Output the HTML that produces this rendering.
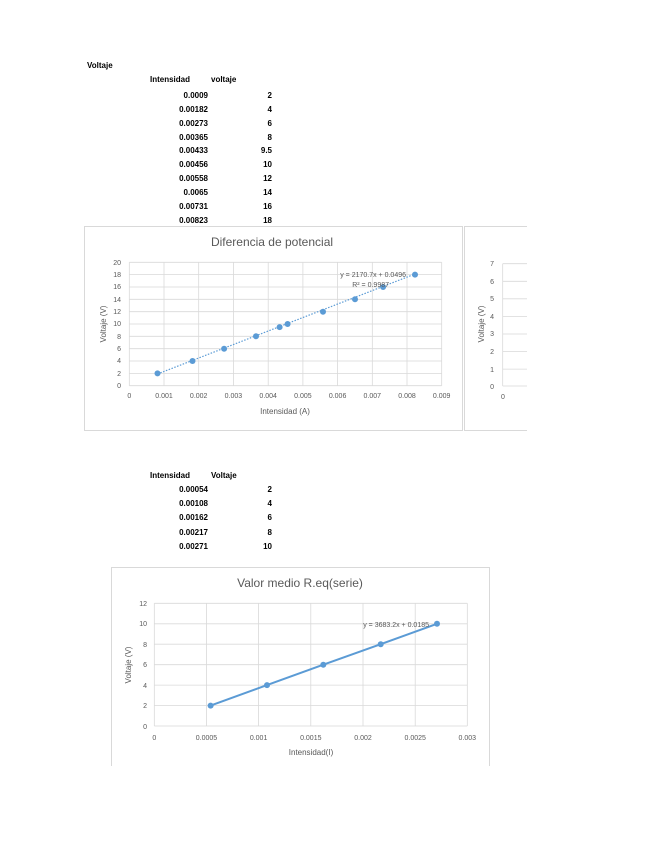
<!DOCTYPE html><html><head><meta charset="utf-8"><style>
body{margin:0;background:#fff}
svg{display:block;font-family:"Liberation Sans",sans-serif}
.t{font-size:8px;font-weight:bold;fill:#000}
.a{font-size:7px;fill:#595959}
.g{stroke:#d9d9d9;stroke-width:0.8}
</style></head><body>
<svg width="655" height="848" viewBox="0 0 655 848" xmlns="http://www.w3.org/2000/svg">
<rect width="655" height="848" fill="#fff"/>
<!-- table 1 -->
<text class="t" x="87" y="68">Voltaje</text>
<text class="t" x="150" y="82">Intensidad</text><text class="t" x="211" y="82">voltaje</text>
<g class="t" text-anchor="end">
<text x="208" y="98">0.0009</text><text x="272" y="98">2</text>
<text x="208" y="112">0.00182</text><text x="272" y="112">4</text>
<text x="208" y="126">0.00273</text><text x="272" y="126">6</text>
<text x="208" y="140">0.00365</text><text x="272" y="140">8</text>
<text x="208" y="153">0.00433</text><text x="272" y="153">9.5</text>
<text x="208" y="167">0.00456</text><text x="272" y="167">10</text>
<text x="208" y="181">0.00558</text><text x="272" y="181">12</text>
<text x="208" y="195">0.0065</text><text x="272" y="195">14</text>
<text x="208" y="209">0.00731</text><text x="272" y="209">16</text>
<text x="208" y="223">0.00823</text><text x="272" y="223">18</text>
</g>
<!-- chart 1 -->
<rect x="84.5" y="226.5" width="378" height="204" fill="#fff" stroke="#d9d9d9"/>
<text x="272" y="246" text-anchor="middle" font-size="12" fill="#595959">Diferencia de potencial</text>
<g class="g">
<line x1="129.3" y1="262.3" x2="129.3" y2="385.7"/><line x1="164" y1="262.3" x2="164" y2="385.7"/><line x1="198.7" y1="262.3" x2="198.7" y2="385.7"/><line x1="233.4" y1="262.3" x2="233.4" y2="385.7"/><line x1="268.2" y1="262.3" x2="268.2" y2="385.7"/><line x1="302.9" y1="262.3" x2="302.9" y2="385.7"/><line x1="337.6" y1="262.3" x2="337.6" y2="385.7"/><line x1="372.3" y1="262.3" x2="372.3" y2="385.7"/><line x1="407" y1="262.3" x2="407" y2="385.7"/><line x1="441.7" y1="262.3" x2="441.7" y2="385.7"/>
<line x1="129.3" y1="385.7" x2="441.7" y2="385.7"/><line x1="129.3" y1="373.4" x2="441.7" y2="373.4"/><line x1="129.3" y1="361" x2="441.7" y2="361"/><line x1="129.3" y1="348.7" x2="441.7" y2="348.7"/><line x1="129.3" y1="336.3" x2="441.7" y2="336.3"/><line x1="129.3" y1="324" x2="441.7" y2="324"/><line x1="129.3" y1="311.7" x2="441.7" y2="311.7"/><line x1="129.3" y1="299.3" x2="441.7" y2="299.3"/><line x1="129.3" y1="287" x2="441.7" y2="287"/><line x1="129.3" y1="274.6" x2="441.7" y2="274.6"/><line x1="129.3" y1="262.3" x2="441.7" y2="262.3"/>
</g>
<g class="a" text-anchor="end">
<text x="121" y="388">0</text><text x="121" y="376">2</text><text x="121" y="363">4</text><text x="121" y="351">6</text><text x="121" y="339">8</text><text x="121" y="326">10</text><text x="121" y="314">12</text><text x="121" y="302">14</text><text x="121" y="289">16</text><text x="121" y="277">18</text><text x="121" y="265">20</text>
</g>
<g class="a" text-anchor="middle">
<text x="129.3" y="398">0</text><text x="164" y="398">0.001</text><text x="198.7" y="398">0.002</text><text x="233.4" y="398">0.003</text><text x="268.2" y="398">0.004</text><text x="302.9" y="398">0.005</text><text x="337.6" y="398">0.006</text><text x="372.3" y="398">0.007</text><text x="407" y="398">0.008</text><text x="441.7" y="398">0.009</text>
</g>
<text x="285" y="414" text-anchor="middle" font-size="8" fill="#595959">Intensidad (A)</text>
<text transform="translate(106,324) rotate(-90)" text-anchor="middle" font-size="8" fill="#595959">Voltaje (V)</text>
<line x1="157.5" y1="374" x2="415" y2="274" stroke="#5b9bd5" stroke-width="1.2" stroke-dasharray="1.5,1.5"/>
<g fill="#5b9bd5">
<circle cx="157.5" cy="373.4" r="3"/><circle cx="192.5" cy="361" r="3"/><circle cx="224.1" cy="348.7" r="3"/><circle cx="256" cy="336.3" r="3"/><circle cx="279.6" cy="327.1" r="3"/><circle cx="287.6" cy="324" r="3"/><circle cx="323" cy="311.7" r="3"/><circle cx="355" cy="299.3" r="3"/><circle cx="383.1" cy="287" r="3"/><circle cx="415" cy="274.6" r="3"/>
</g>
<text x="406" y="277" text-anchor="end" font-size="7" fill="#595959">y = 2170.7x + 0.0496</text>
<text x="389" y="287" text-anchor="end" font-size="7" fill="#595959">R² = 0.9987</text>
<!-- partial chart -->
<rect x="464.5" y="226.5" width="80" height="204" fill="#fff" stroke="#d9d9d9"/>
<g class="g">
<line x1="502.7" y1="263.7" x2="527" y2="263.7"/><line x1="502.7" y1="281.3" x2="527" y2="281.3"/><line x1="502.7" y1="298.8" x2="527" y2="298.8"/><line x1="502.7" y1="316.4" x2="527" y2="316.4"/><line x1="502.7" y1="334" x2="527" y2="334"/><line x1="502.7" y1="351.5" x2="527" y2="351.5"/><line x1="502.7" y1="369.1" x2="527" y2="369.1"/><line x1="502.7" y1="386" x2="527" y2="386"/><line x1="502.7" y1="263.7" x2="502.7" y2="386"/>
</g>
<g class="a" text-anchor="end">
<text x="494" y="266">7</text><text x="494" y="284">6</text><text x="494" y="301">5</text><text x="494" y="319">4</text><text x="494" y="336">3</text><text x="494" y="354">2</text><text x="494" y="372">1</text><text x="494" y="389">0</text>
</g>
<text class="a" x="503" y="399" text-anchor="middle">0</text>
<text transform="translate(484,324) rotate(-90)" text-anchor="middle" font-size="8" fill="#595959">Voltaje (V)</text>
<rect x="527" y="220" width="128" height="220" fill="#fff"/>
<!-- table 2 -->
<text class="t" x="150" y="478">Intensidad</text><text class="t" x="211" y="478">Voltaje</text>
<g class="t" text-anchor="end">
<text x="208" y="492">0.00054</text><text x="272" y="492">2</text>
<text x="208" y="506">0.00108</text><text x="272" y="506">4</text>
<text x="208" y="520">0.00162</text><text x="272" y="520">6</text>
<text x="208" y="535">0.00217</text><text x="272" y="535">8</text>
<text x="208" y="549">0.00271</text><text x="272" y="549">10</text>
</g>
<!-- chart 2 -->
<rect x="111.5" y="567.5" width="378" height="210" fill="#fff" stroke="#d9d9d9"/>
<text x="300" y="587" text-anchor="middle" font-size="12" fill="#595959">Valor medio R.eq(serie)</text>
<g class="g">
<line x1="154.3" y1="603.3" x2="154.3" y2="726"/><line x1="206.5" y1="603.3" x2="206.5" y2="726"/><line x1="258.6" y1="603.3" x2="258.6" y2="726"/><line x1="310.8" y1="603.3" x2="310.8" y2="726"/><line x1="363" y1="603.3" x2="363" y2="726"/><line x1="415.2" y1="603.3" x2="415.2" y2="726"/><line x1="467.3" y1="603.3" x2="467.3" y2="726"/>
<line x1="154.3" y1="726" x2="467.3" y2="726"/><line x1="154.3" y1="705.6" x2="467.3" y2="705.6"/><line x1="154.3" y1="685.1" x2="467.3" y2="685.1"/><line x1="154.3" y1="664.7" x2="467.3" y2="664.7"/><line x1="154.3" y1="644.2" x2="467.3" y2="644.2"/><line x1="154.3" y1="623.8" x2="467.3" y2="623.8"/><line x1="154.3" y1="603.3" x2="467.3" y2="603.3"/>
</g>
<g class="a" text-anchor="end">
<text x="147" y="729">0</text><text x="147" y="708">2</text><text x="147" y="688">4</text><text x="147" y="667">6</text><text x="147" y="647">8</text><text x="147" y="626">10</text><text x="147" y="606">12</text>
</g>
<g class="a" text-anchor="middle">
<text x="154.3" y="740">0</text><text x="206.5" y="740">0.0005</text><text x="258.6" y="740">0.001</text><text x="310.8" y="740">0.0015</text><text x="363" y="740">0.002</text><text x="415.2" y="740">0.0025</text><text x="467.3" y="740">0.003</text>
</g>
<text x="311" y="755" text-anchor="middle" font-size="8" fill="#595959">Intensidad(I)</text>
<text transform="translate(131,665) rotate(-90)" text-anchor="middle" font-size="8" fill="#595959">Voltaje (V)</text>
<polyline points="210.6,705.6 267,685.1 323.3,664.7 380.7,644.2 437,623.8" fill="none" stroke="#5b9bd5" stroke-width="2"/>
<g fill="#5b9bd5">
<circle cx="210.6" cy="705.6" r="3"/><circle cx="267" cy="685.1" r="3"/><circle cx="323.3" cy="664.7" r="3"/><circle cx="380.7" cy="644.2" r="3"/><circle cx="437" cy="623.8" r="3"/>
</g>
<text x="429" y="627" text-anchor="end" font-size="7" fill="#595959">y = 3683.2x + 0.0185</text>
<rect x="100" y="766" width="400" height="20" fill="#fff"/>
</svg>
</body></html>
